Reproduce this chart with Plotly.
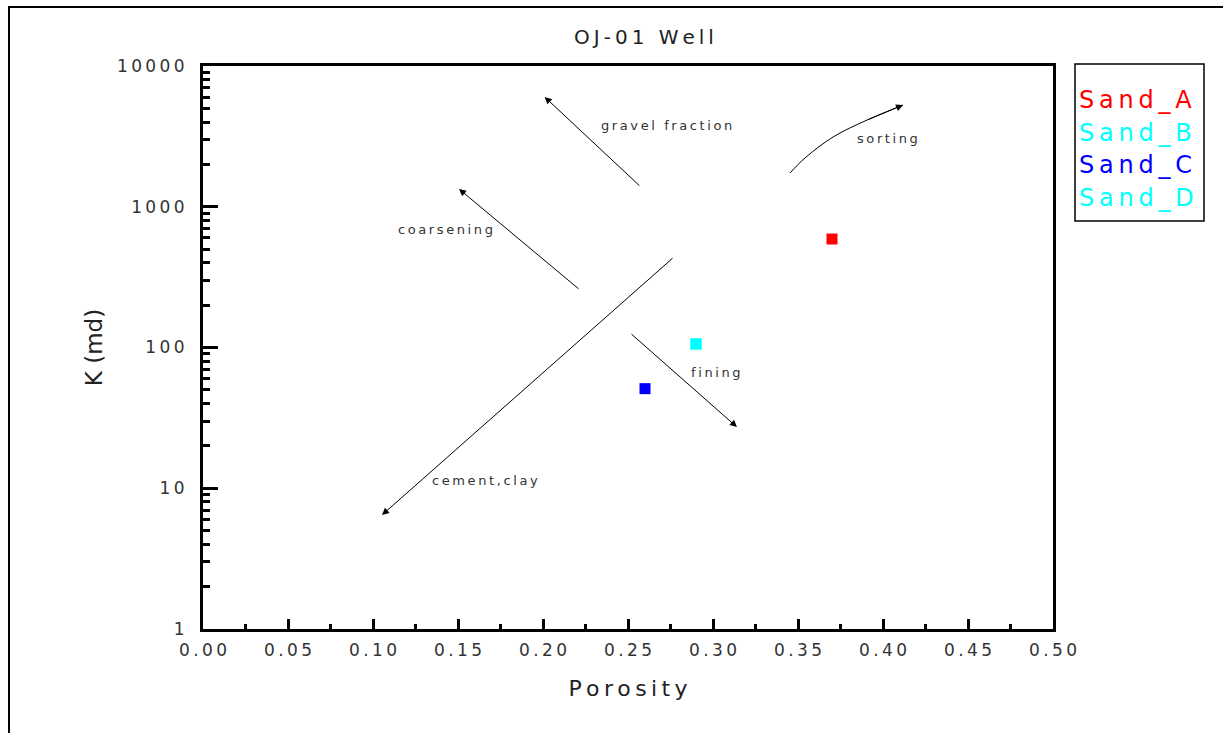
import numpy as np
import plotly.graph_objects as go

# Sample points: porosity (fraction) and permeability K (md)
sands = ["Sand_A", "Sand_B", "Sand_C", "Sand_D"]
porosity = [0.37, 0.29, 0.26, 0.29]
perm_md = [590, 106, 51, 106]
colors = ["#ff0000", "#00ffff", "#0000ff", "#00ffff"]

# Trend arrows: tail and head as (porosity, K)
arrow_tail_phi = [0.2576, 0.2218, 0.2512, 0.2771]
arrow_tail_k = [1381, 256, 127, 440]
arrow_head_phi = [0.2010, 0.1506, 0.3141, 0.1053]
arrow_head_k = [6025, 1337, 27.2, 6.46]

# Curved "sorting" arrow path
sorting_phi = [0.3453, 0.3541, 0.3706, 0.3906, 0.4118]
sorting_k = [1738, 2220, 3130, 4130, 5280]

# Text labels for the trends
label_text = ["gravel fraction", "sorting", "coarsening", "fining", "cement,clay"]
label_phi = [0.2724, 0.4024, 0.1429, 0.3018, 0.1659]
label_k = [3750, 3030, 684, 65.9, 11.3]

# Axis ticks
x_ticks = [0.0, 0.05, 0.10, 0.15, 0.20, 0.25, 0.30, 0.35, 0.40, 0.45, 0.50]
y_ticks = [1, 10, 100, 1000, 10000]
y_minor = [d * m for d in [1, 10, 100, 1000] for m in range(2, 10)]

FONT = "DejaVu Sans, Arial"
W, H = 1223, 733
L, R, T, B = 203, 170, 66, 104
pw, ph = W - L - R, H - T - B


def spaced(s):
    """Open up the letter spacing with thin spaces."""
    return "\u2009".join(s)


def px_to_paper(xp, yp):
    return (xp - L) / pw, (H - B - yp) / ph


fig = go.Figure()

for name, x, y, c in zip(sands, porosity, perm_md, colors):
    fig.add_trace(go.Scatter(
        x=[x], y=[y], mode="markers", name=name,
        marker=dict(symbol="square", size=11, color=c),
        showlegend=False,
    ))

fig.add_trace(go.Scatter(
    x=sorting_phi, y=sorting_k, mode="lines",
    line=dict(color="black", width=1, shape="spline"),
    showlegend=False, hoverinfo="skip",
))

annotations = []
for tphi, tk, hphi, hk in zip(arrow_tail_phi, arrow_tail_k, arrow_head_phi, arrow_head_k):
    annotations.append(dict(
        x=hphi, y=np.log10(hk), ax=tphi, ay=np.log10(tk),
        xref="x", yref="y", axref="x", ayref="y",
        text="", showarrow=True, arrowhead=2, arrowsize=1.4,
        arrowwidth=1, arrowcolor="black",
    ))
# head of the sorting arrow
annotations.append(dict(
    x=sorting_phi[-1], y=np.log10(sorting_k[-1]),
    ax=sorting_phi[-2], ay=np.log10(sorting_k[-2]),
    xref="x", yref="y", axref="x", ayref="y",
    text="", showarrow=True, arrowhead=2, arrowsize=1.4,
    arrowwidth=1, arrowcolor="black",
))

for txt, x, y in zip(label_text, label_phi, label_k):
    annotations.append(dict(
        x=x, y=np.log10(y), xref="x", yref="y", text=spaced(txt), showarrow=False,
        font=dict(family=FONT, size=13, color="#333333"),
    ))

# Legend drawn as coloured text inside a box
leg_x, _ = px_to_paper(1077, 0)
for i, (name, c) in enumerate(zip(sands, colors)):
    _, ly = px_to_paper(0, 100 + 32.5 * i)
    annotations.append(dict(
        x=leg_x, y=ly, xref="paper", yref="paper", text=spaced(name),
        xanchor="left", yanchor="middle", showarrow=False,
        font=dict(family=FONT, size=24, color=c),
    ))

lx0, ly1 = px_to_paper(1075, 64)
lx1, ly0 = px_to_paper(1204, 221)
fx0, fy1 = px_to_paper(9, 7)
fx1, fy0 = px_to_paper(1300, 800)

shapes = [
    dict(type="rect", xref="paper", yref="paper", x0=lx0, x1=lx1, y0=ly0, y1=ly1,
         line=dict(color="black", width=1.5)),
    dict(type="rect", xref="paper", yref="paper", x0=fx0, x1=fx1, y0=fy0, y1=fy1,
         line=dict(color="black", width=2)),
]

fig.update_layout(
    width=W, height=H,
    margin=dict(l=L, r=R, t=T, b=B),
    paper_bgcolor="white", plot_bgcolor="white",
    font=dict(family=FONT, color="#222222"),
    title=dict(text=spaced("OJ-01 Well"), x=644 / W, xanchor="center",
               y=1 - 37 / H, yanchor="middle",
               font=dict(size=20, color="#222222")),
    annotations=annotations,
    shapes=shapes,
    showlegend=False,
)

fig.update_xaxes(
    range=[0, 0.5], tickvals=x_ticks,
    ticktext=[spaced(f"{v:.2f}") for v in x_ticks],
    showgrid=False, zeroline=False,
    showline=True, linecolor="black", linewidth=3, mirror=True,
    ticks="inside", ticklen=10, tickwidth=3, tickcolor="black",
    minor=dict(ticks="inside", ticklen=5, tickwidth=3, dtick=0.025, tick0=0,
               tickcolor="black"),
    ticklabelstandoff=4,
    tickfont=dict(family=FONT, size=17, color="#333333"),
    title=dict(text=spaced("Porosity"), font=dict(family=FONT, size=22, color="#222222"),
               standoff=22),
)

fig.update_yaxes(
    type="log", range=[0, 4],
    tickvals=y_ticks,
    ticktext=[spaced(str(v)) for v in y_ticks],
    showgrid=False, zeroline=False,
    showline=True, linecolor="black", linewidth=3, mirror=True,
    ticks="inside", ticklen=15, tickwidth=3, tickcolor="black",
    minor=dict(ticks="inside", ticklen=7, tickwidth=2.5, tickcolor="black",
               tickvals=y_minor, showgrid=False),
    ticklabelstandoff=12,
    tickfont=dict(family=FONT, size=17, color="#333333"),
    title=dict(text="K (md)", font=dict(family=FONT, size=23, color="#222222"),
               standoff=8),
)

fig.write_html("out.html")
